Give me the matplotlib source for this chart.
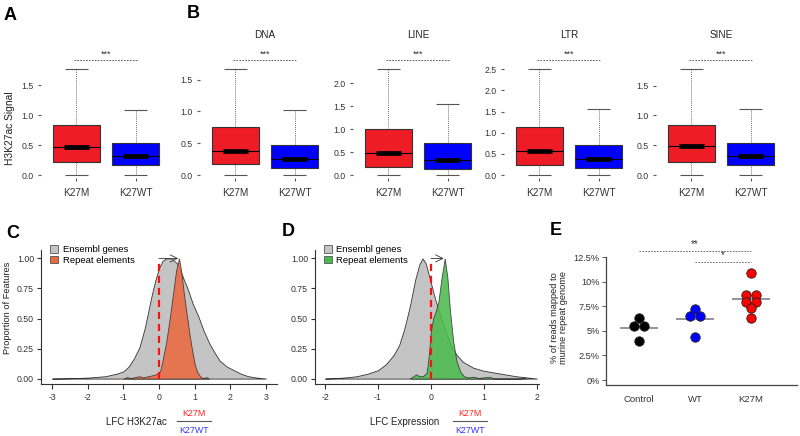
import numpy as np
import matplotlib.pyplot as plt
import matplotlib.transforms as mtransforms
from matplotlib.patches import Patch
from matplotlib.lines import Line2D

plt.rcParams['font.family'] = ['Liberation Sans', 'DejaVu Sans']
plt.rcParams['axes.unicode_minus'] = False

W, H = 800, 436

# ---- data: panels A/B boxplots (low whisker, Q1, median, Q3, high whisker)
groups = ['K27M', 'K27WT']
box_titles = ['', 'DNA', 'LINE', 'LTR', 'SINE']
a_k27m = [0.0, 0.21, 0.47, 0.83, 1.77]
a_k27wt = [0.0, 0.16, 0.32, 0.54, 1.09]
dna_k27m = [0.0, 0.17, 0.38, 0.76, 1.67]
dna_k27wt = [0.0, 0.11, 0.25, 0.47, 1.02]
line_k27m = [0.0, 0.17, 0.47, 1.01, 2.31]
line_k27wt = [0.0, 0.13, 0.32, 0.70, 1.54]
ltr_k27m = [0.0, 0.23, 0.57, 1.13, 2.51]
ltr_k27wt = [0.0, 0.17, 0.39, 0.72, 1.55]
sine_k27m = [0.0, 0.22, 0.48, 0.84, 1.78]
sine_k27wt = [0.0, 0.16, 0.32, 0.53, 1.10]
box_data = [(a_k27m, a_k27wt), (dna_k27m, dna_k27wt), (line_k27m, line_k27wt),
            (ltr_k27m, ltr_k27wt), (sine_k27m, sine_k27wt)]
box_sig = '***'

# ---- data: panel C densities (LFC H3K27ac)
c_gene_x = [-3.0, -2.5, -2.0, -1.5, -1.2, -1.0, -0.85, -0.7, -0.55, -0.4, -0.3, -0.2, -0.1,
            0.0, 0.1, 0.2, 0.35, 0.5, 0.6, 0.7, 0.8, 0.95, 1.1, 1.25, 1.4, 1.55, 1.7, 1.9,
            2.1, 2.3, 2.5, 2.7, 3.0]
c_gene_y = [0.0, 0.003, 0.008, 0.02, 0.04, 0.06, 0.1, 0.17, 0.26, 0.42, 0.56, 0.7, 0.82,
            0.92, 0.98, 1.0, 1.0, 0.96, 0.9, 0.82, 0.75, 0.62, 0.52, 0.4, 0.3, 0.22, 0.15,
            0.1, 0.07, 0.04, 0.02, 0.01, 0.0]
c_rep_x = [-1.0, -0.9, -0.8, -0.7, -0.55, -0.45, -0.3, -0.15, -0.05, 0.03, 0.1, 0.2, 0.3,
           0.4, 0.48, 0.56, 0.62, 0.7, 0.77, 0.85, 0.92, 1.0, 1.08, 1.18, 1.25, 1.33, 1.4]
c_rep_y = [0.0, 0.012, 0.005, 0.01, 0.02, 0.01, 0.02, 0.03, 0.04, 0.06, 0.15, 0.3, 0.5,
           0.72, 0.9, 1.0, 0.9, 0.7, 0.55, 0.38, 0.25, 0.12, 0.05, 0.01, 0.005, 0.012, 0.0]

# ---- data: panel D densities (LFC Expression)
d_gene_x = [-2.0, -1.8, -1.6, -1.4, -1.2, -1.0, -0.85, -0.7, -0.6, -0.5, -0.4, -0.3, -0.22,
            -0.16, -0.1, -0.04, 0.02, 0.08, 0.15, 0.22, 0.3, 0.38, 0.48, 0.6, 0.8, 1.0, 1.2,
            1.4, 1.6, 1.8, 2.0]
d_gene_y = [0.0, 0.004, 0.01, 0.02, 0.04, 0.07, 0.12, 0.2, 0.28, 0.42, 0.6, 0.82, 0.95,
            1.0, 0.96, 0.86, 0.76, 0.66, 0.56, 0.47, 0.36, 0.27, 0.2, 0.14, 0.09, 0.065, 0.05,
            0.035, 0.02, 0.01, 0.0]
d_rep_x = [-0.4, -0.33, -0.28, -0.22, -0.15, -0.08, -0.04, 0.0, 0.04, 0.09, 0.14, 0.2, 0.26,
           0.31, 0.36, 0.42, 0.48, 0.55, 0.62, 0.7, 0.8, 0.9, 1.1, 1.2, 1.7, 1.75, 1.8]
d_rep_y = [0.0, 0.02, 0.035, 0.02, 0.02, 0.05, 0.2, 0.4, 0.5, 0.56, 0.64, 0.84, 1.0,
           0.84, 0.56, 0.31, 0.15, 0.06, 0.02, 0.01, 0.015, 0.005, 0.015, 0.0, 0.0, 0.01, 0.0]

# ---- data: panel E (% reads mapped to repeat genome)
e_groups = ['Control', 'WT', 'K27M']
control_vals = [6.3, 5.5, 5.5, 3.95]
wt_vals = [7.26, 6.48, 6.48, 4.39]
k27m_vals = [10.87, 8.6, 8.6, 7.9, 7.9, 7.3, 6.28]
e_sig = [('**', 0, 2, 13.07), ('*', 1, 2, 11.96)]

red = '#EE1C25'
blue = '#0000FF'
gray_fill = '#C4C4C4'
orange = '#EA6A40'
green = '#4CBB4F'
txt = '#333333'


def rect(l, t, r, b):
    return [l / W, 1 - b / H, (r - l) / W, (b - t) / H]


fig = plt.figure(figsize=(W / 100, H / 100), dpi=100)

# ---------------- panels A and B
box_lefts = [41, 200, 353, 504, 656]
for i, (left, title, pair) in enumerate(zip(box_lefts, box_titles, box_data)):
    ax = fig.add_axes(rect(left, 45, left + 130, 178))
    top = max(s[4] for s in pair)
    ymax = 1.225 * top
    for pos, stats, col in zip([1, 2], pair, [red, blue]):
        lo, q1, med, q3, hi = stats
        ax.vlines(pos, q3, hi, color='#777777', lw=0.7, linestyles=(0, (1, 1)), zorder=1)
        ax.vlines(pos, lo, q1, color='#777777', lw=0.7, linestyles=(0, (1, 1)), zorder=1)
        ax.hlines([lo, hi], pos - 0.2, pos + 0.2, color='#555555', lw=0.8, zorder=1)
        ax.bar(pos, q3 - q1, bottom=q1, width=0.8, color=col, edgecolor='#333333',
               lw=0.8, zorder=2)
        ax.hlines(med, pos - 0.4, pos + 0.4, color='black', lw=0.8, zorder=3)
        ax.hlines(med, pos - 0.21, pos + 0.21, color='black', lw=3.4, zorder=3)
    ax.set_xlim(0.4, 2.6)
    ax.set_ylim(-0.023 * ymax, ymax)
    ax.set_xticks([1, 2])
    ax.set_xticklabels(groups, fontsize=7.2, color=txt)
    ax.set_yticks(np.arange(0, top + 0.01, 0.5))
    ax.set_yticklabels(['%.1f' % v for v in np.arange(0, top + 0.01, 0.5)],
                       fontsize=6.3, color=txt)
    ax.tick_params(axis='x', length=2, pad=5, color='#555555')
    ax.tick_params(axis='y', length=2, pad=3.5, color='#555555')
    for sp in ax.spines.values():
        sp.set_visible(False)
    trans = mtransforms.blended_transform_factory(ax.transData, ax.transAxes)
    ax.plot([0.96, 2.03], [0.887, 0.887], transform=trans, color='#444444', lw=0.6,
            ls=(0, (2, 1.5)), clip_on=False)
    ax.text(1.5, 0.9, box_sig, transform=trans, ha='center', va='bottom', fontsize=6.5,
            color=txt)
    if title:
        ax.set_title(title, fontsize=7.2, pad=5, color='#222222')
    else:
        ax.set_ylabel('H3K27ac Signal', fontsize=7.4, color='#222222')
        ax.yaxis.set_label_coords(-0.2, 0.376)


# ---------------- panels C and D
def density_panel(rc, xlim, ticks, gx, gy, rx, ry, rep_col, xlab, frac_cx, lab_cx, ylabel):
    ax = fig.add_axes(rect(*rc))
    ax.fill_between(gx, gy, 0, facecolor=gray_fill, edgecolor='#333333', lw=0.6, zorder=1)
    ax.fill_between(rx, ry, 0, facecolor=rep_col, edgecolor='#333333', lw=0.6, alpha=0.88,
                    zorder=2)
    ax.vlines(0, 0, 0.975, color='#FF1010', lw=1.6, linestyles=(0, (3.2, 2.2)), zorder=3)
    peak = rx[int(np.argmax(ry))]
    ax.annotate('', xy=(peak - 0.02, 1.0), xytext=(0, 1.0),
                arrowprops=dict(arrowstyle='->', color='#333333', lw=0.6,
                                mutation_scale=13, shrinkA=0, shrinkB=0), zorder=4)
    ax.set_xlim(*xlim)
    ax.set_ylim(-0.045, 1.07)
    ax.set_xticks(ticks)
    ax.set_xticklabels([str(t) for t in ticks], fontsize=6.3, color=txt)
    yt = [0, 0.25, 0.5, 0.75, 1.0]
    ax.set_yticks(yt)
    ax.set_yticklabels(['%.2f' % v for v in yt], fontsize=6.3, color=txt)
    ax.tick_params(axis='x', length=3.5, pad=3, color='#333333', width=0.8)
    ax.tick_params(axis='y', length=3, pad=2, color='#333333', width=0.8)
    for s in ['top', 'right']:
        ax.spines[s].set_visible(False)
    for s in ['left', 'bottom']:
        ax.spines[s].set_color('#333333')
        ax.spines[s].set_linewidth(0.8)
    handles = [Patch(facecolor=gray_fill, edgecolor='#555555', lw=0.6, label='Ensembl genes'),
               Patch(facecolor=rep_col, edgecolor='#555555', lw=0.6, label='Repeat elements')]
    ax.legend(handles=handles, loc='upper left', bbox_to_anchor=(0.04, 1.035), frameon=False,
              fontsize=6.8, handlelength=0.8, handleheight=0.8, handletextpad=0.5,
              labelspacing=0.15, borderaxespad=0, borderpad=0)
    if ylabel:
        ax.set_ylabel(ylabel, fontsize=6.7, color='#222222')
        ax.yaxis.set_label_coords(-0.123, 0.567)
    fig.text(lab_cx / W, 1 - 422 / H, xlab, ha='center', va='center', fontsize=7,
             color='#222222')
    fig.text(frac_cx / W, 1 - 413 / H, 'K27M', ha='center', va='center', fontsize=6.4,
             color='#FF2222')
    fig.text(frac_cx / W, 1 - 430 / H, 'K27WT', ha='center', va='center', fontsize=6.4,
             color='#3333FF')
    fig.add_artist(Line2D([(frac_cx - 17) / W, (frac_cx + 17) / W], [1 - 421 / H, 1 - 421 / H],
                          color='#555555', lw=0.8))
    return ax


density_panel((41, 250, 277, 384), (-3.31, 3.31), [-3, -2, -1, 0, 1, 2, 3],
              c_gene_x, c_gene_y, c_rep_x, c_rep_y, orange, 'LFC H3K27ac', 194, 136,
              'Proportion of Features')
density_panel((315, 250, 539, 384), (-2.19, 2.04), [-2, -1, 0, 1, 2],
              d_gene_x, d_gene_y, d_rep_x, d_rep_y, green, 'LFC Expression', 470, 405, None)

# ---------------- panel E
axe = fig.add_axes(rect(606, 257, 797, 385))
step = 0.168
for pos, vals, col in zip([1, 2, 3], [control_vals, wt_vals, k27m_vals],
                          ['black', blue, '#FF0000']):
    offs = []
    for i, v in enumerate(vals):
        same = [j for j, w in enumerate(vals) if w == v]
        offs.append((same.index(i) - (len(same) - 1) / 2) * step)
    axe.hlines(np.mean(vals), pos - 0.34, pos + 0.34, color='#808080', lw=1.2, zorder=1)
    axe.scatter(np.array(offs) + pos, vals, s=46, color=col, edgecolor='#222222',
                lw=0.6, zorder=2)
for lab, i0, i1, yv in e_sig:
    axe.plot([i0 + 1, i1 + 1], [yv, yv], color='#555555', lw=0.6, ls=(0, (2, 1.5)),
             clip_on=False)
    axe.text((i0 + i1) / 2 + 1, yv + 0.2, lab, ha='center', va='bottom', fontsize=7,
             color=txt, clip_on=False)
axe.set_xlim(0.41, 3.82)
axe.set_ylim(-0.5, 12.5)
axe.set_xticks([1, 2, 3])
axe.set_xticklabels(e_groups, fontsize=6.8, color=txt)
et = [0, 2.5, 5, 7.5, 10, 12.5]
axe.set_yticks(et)
axe.set_yticklabels(['%g%%' % v for v in et], fontsize=6.6, color=txt)
axe.tick_params(axis='x', length=0, pad=7)
axe.tick_params(axis='y', length=3, pad=1.5, color='#555555', width=0.7)
for s in ['top', 'right']:
    axe.spines[s].set_visible(False)
for s in ['left', 'bottom']:
    axe.spines[s].set_color('#444444')
    axe.spines[s].set_linewidth(0.9)
axe.set_ylabel('% of reads mapped to\nmurine repeat genome', fontsize=6.7,
               color='#222222', linespacing=1.0)
axe.yaxis.set_label_coords(-0.199, 0.53)

# ---------------- panel letters
for lab, x, y in [('A', 4, 7), ('B', 187, 5), ('C', 6, 225), ('D', 282, 223), ('E', 550, 222)]:
    fig.text(x / W, 1 - y / H, lab, ha='left', va='top', fontsize=13, fontweight='bold')

fig.savefig('out.png', dpi=100)
